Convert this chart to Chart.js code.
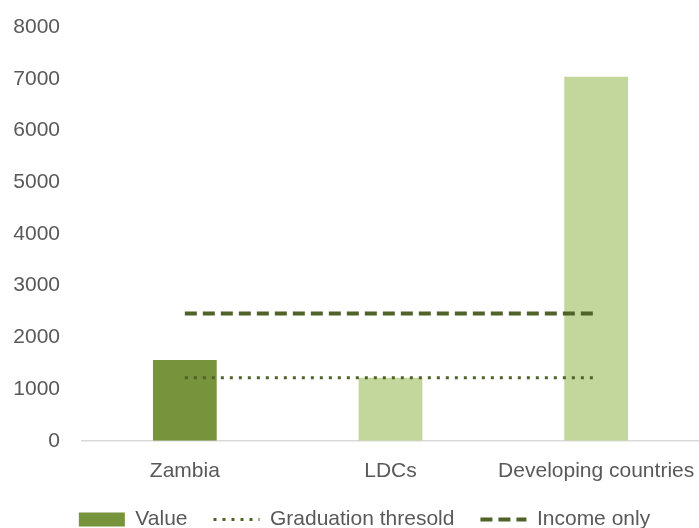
<!DOCTYPE html>
<html>
<head>
<meta charset="utf-8">
<script src="https://cdn.jsdelivr.net/npm/chart.js@4/dist/chart.umd.min.js"></script>
<style>
  html, body { margin: 0; padding: 0; background: #fff; }
  #wrap { width: 699px; height: 528px; }
</style>
</head>
<body>
<div id="wrap"><canvas id="chart"></canvas></div>
<script>
// Data
const categories = ['Zambia', 'LDCs', 'Developing countries'];
const values = [1560, 1220, 7040];
const barColors = ['#77933c', '#c3d69b', '#c3d69b'];
const graduationThreshold = [1220, 1220, 1220];
const incomeOnly = [2460, 2460, 2460];

Chart.defaults.font.family = '"Liberation Sans", Arial, sans-serif';
Chart.defaults.color = '#595959';

const ctx = document.getElementById('chart').getContext('2d');

// Legend items: keep dataset order and show the dash pattern of the lines
function legendLabels(chart) {
  const items = Chart.defaults.plugins.legend.labels.generateLabels(chart);
  items.forEach(item => {
    const ds = chart.data.datasets[item.datasetIndex];
    if (ds.type === 'line') {
      item.lineDash = ds.borderDash;
      item.lineWidth = ds.borderWidth;
      item.strokeStyle = ds.borderColor;
    }
  });
  return items.sort((a, b) => a.datasetIndex - b.datasetIndex);
}

// The legend sits a bit right of the canvas centre in the original
const legendShift = {
  id: 'legendShift',
  afterLayout(chart) {
    chart.legend.left += 15;
    chart.legend.right += 15;
  }
};

const chart = new Chart(ctx, {
  type: 'bar',
  data: {
    labels: categories,
    datasets: [
      {
        label: 'Value',
        data: values,
        backgroundColor: barColors,
        borderWidth: 0,
        barPercentage: 0.62,
        categoryPercentage: 0.5,
        pointStyle: 'rect',
        order: 2
      },
      {
        type: 'line',
        label: 'Graduation thresold',
        data: graduationThreshold,
        borderColor: '#4f6228',
        backgroundColor: '#4f6228',
        borderWidth: 3,
        borderDash: [3, 6],
        pointRadius: 0,
        pointStyle: 'line',
        fill: false,
        order: 1
      },
      {
        type: 'line',
        label: 'Income only',
        data: incomeOnly,
        borderColor: '#4f6228',
        backgroundColor: '#4f6228',
        borderWidth: 4,
        borderDash: [12, 6],
        pointRadius: 0,
        pointStyle: 'line',
        fill: false,
        order: 1
      }
    ]
  },
  options: {
    responsive: true,
    maintainAspectRatio: false,
    animation: false,
    layout: { padding: { top: 27, right: 0, left: 0, bottom: -12 } },
    scales: {
      x: {
        grid: { display: false, drawTicks: false },
        border: { display: true, color: '#d9d9d9', width: 1.5 },
        ticks: { font: { size: 21 }, color: '#595959', padding: 18 },
        afterFit: (scale) => {
          scale.paddingRight = 0;
          scale.paddingLeft = 0;
          scale.height -= 19; // pull the legend closer to the category labels
        }
      },
      y: {
        min: 0,
        max: 8000,
        grid: { display: false, drawTicks: false },
        border: { display: false },
        ticks: {
          stepSize: 1000,
          font: { size: 21 },
          color: '#595959',
          padding: 22,
          callback: (value) => String(value)
        },
        afterFit: (scale) => {
          scale.width = 82;
          scale.paddingTop = 0;
          scale.paddingBottom = 0;
        }
      }
    },
    plugins: {
      legend: {
        position: 'bottom',
        labels: {
          usePointStyle: true,
          pointStyleWidth: 46,
          boxHeight: 14,
          font: { size: 21 },
          color: '#595959',
          padding: 26,
          generateLabels: legendLabels
        }
      },
      tooltip: { enabled: false }
    }
  },
  plugins: [legendShift]
});
</script>
</body>
</html>
